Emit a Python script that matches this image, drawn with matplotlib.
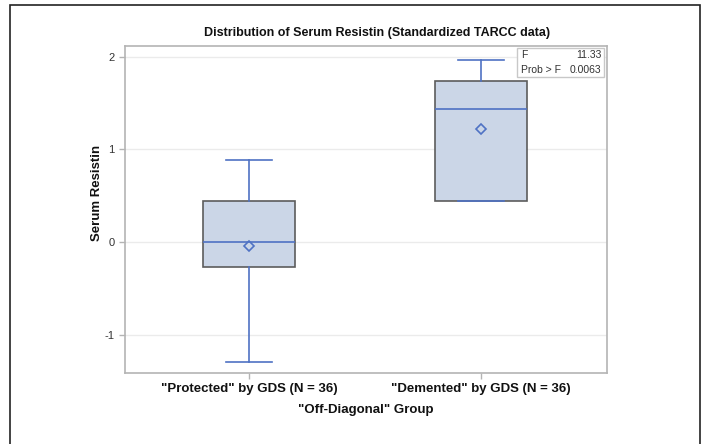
import matplotlib.pyplot as plt
from matplotlib.patches import Rectangle

plt.rcParams['font.family'] = ['Liberation Sans', 'DejaVu Sans']

# box statistics
groups = ['"Protected" by GDS (N = 36)', '"Demented" by GDS (N = 36)']
q1 = [-0.27, 0.44]
median = [0.0, 1.44]
q3 = [0.44, 1.74]
whislo = [-1.29, 0.44]
whishi = [0.885, 1.96]
means = [-0.043, 1.22]
yticks = [-1, 0, 1, 2]
f_value = "11.33"
prob_f = "0.0063"

box_fill = '#cbd6e7'
box_edge = '#5c5c5c'
blue = '#4f72c4'
frame = '#b4b4b4'

fig = plt.figure(figsize=(7.04, 4.44), dpi=100)
ax = fig.add_axes([125 / 704, 1 - 373 / 444, 482 / 704, 327 / 444])

stats = []
for i in range(len(groups)):
    stats.append(dict(q1=q1[i], med=median[i], q3=q3[i], whislo=whislo[i],
                      whishi=whishi[i], mean=means[i], fliers=[]))

ax.bxp(stats, positions=[1, 2], widths=0.397, patch_artist=True,
       showmeans=True, meanline=False,
       boxprops=dict(facecolor=box_fill, edgecolor=box_edge, linewidth=1.2),
       medianprops=dict(color=blue, linewidth=1.2),
       whiskerprops=dict(color=blue, linewidth=1.2),
       capprops=dict(color=blue, linewidth=1.2),
       capwidths=0.195,
       meanprops=dict(marker='D', markerfacecolor='none', markeredgecolor=blue,
                      markersize=5, markeredgewidth=1.2))

ax.set_xlim(0.466, 2.543)
ax.set_ylim(-1.414, 2.115)
ax.set_yticks(yticks)
ax.set_yticklabels([str(v) for v in yticks])
ax.set_xticks([1, 2])
ax.set_xticklabels(groups, fontsize=9.5, fontweight='bold')
ax.tick_params(axis='both', colors=frame, length=4, width=1)
ax.tick_params(axis='y', labelcolor='#333333', labelsize=8)
ax.tick_params(axis='x', labelcolor='#111111', pad=3)
ax.grid(axis='y', color='#ebebeb', linewidth=1)
ax.set_axisbelow(True)
for s in ax.spines.values():
    s.set_color(frame)
    s.set_linewidth(1.2)

ax.set_ylabel('Serum Resistin', fontsize=9.5, fontweight='bold', color='#111111')
ax.yaxis.set_label_coords(-0.045, 0.55)
ax.set_xlabel('"Off-Diagonal" Group', fontsize=9.5, fontweight='bold', color='#111111', labelpad=7)

fig.text(377 / 704, 1 - 33 / 444, 'Distribution of Serum Resistin (Standardized TARCC data)',
         ha='center', va='center', fontsize=9, fontweight='bold', color='#111111')

# F statistic inset
ax.add_patch(Rectangle((0.813, 0.905), 0.181, 0.088, transform=ax.transAxes,
                       facecolor='white', edgecolor='#c8c8c8', linewidth=1, zorder=5))
ax.text(0.822, 0.972, 'F', transform=ax.transAxes, fontsize=7.5, va='center', color='#333333', zorder=6)
ax.text(0.988, 0.972, f_value, transform=ax.transAxes, fontsize=7.5, va='center', ha='right', color='#333333', zorder=6)
ax.text(0.822, 0.928, 'Prob > F', transform=ax.transAxes, fontsize=7.5, va='center', color='#333333', zorder=6)
ax.text(0.988, 0.928, prob_f, transform=ax.transAxes, fontsize=7.5, va='center', ha='right', color='#333333', zorder=6)

# outer frame of the figure
fig.add_artist(Rectangle((10 / 704, -0.01), 690 / 704, 1 - 5 / 444 + 0.01, transform=fig.transFigure,
                         facecolor='none', edgecolor='#222222', linewidth=1.2))

fig.savefig('out.png', dpi=100)
